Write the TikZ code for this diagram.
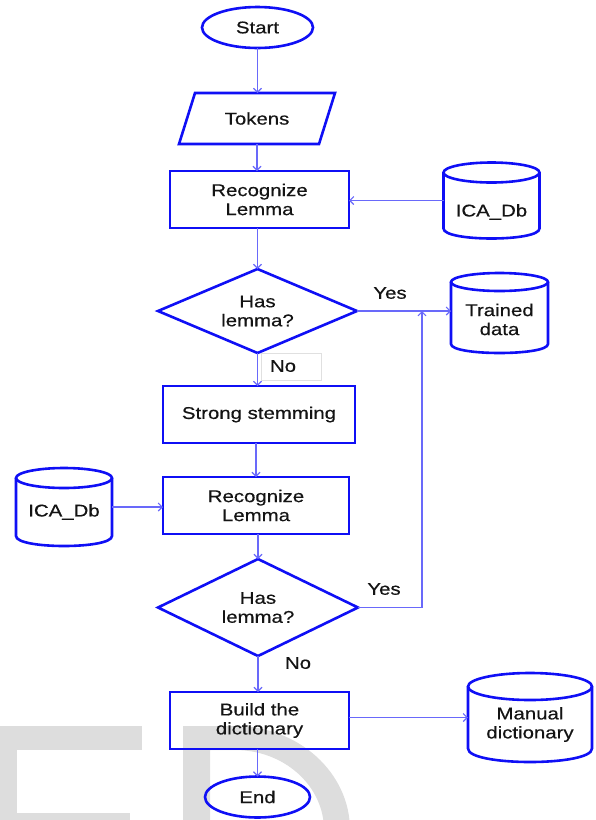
\documentclass[tikz,border=0pt]{standalone}
\usepackage{fontspec}
\setmainfont[FakeStretch=1.2,FakeBold=0.5]{Liberation Sans}
\usetikzlibrary{shapes.geometric,arrows.meta,calc}
\definecolor{bx}{RGB}{15,15,245}
\definecolor{cn}{RGB}{105,105,250}
\definecolor{wm}{RGB}{221,221,221}
\definecolor{tx}{RGB}{20,20,20}
\newcommand\lbl{\fontsize{17}{19}\selectfont}
\tikzset{
  base/.style={inner sep=0pt, outer sep=0pt, text=tx, font=\lbl, align=center},
  proc/.style={base, rectangle, draw=bx, line width=2.6pt},
  term/.style={base, ellipse, draw=bx, line width=2.6pt},
  dec/.style={base, diamond, draw=bx, line width=2.6pt, aspect=2.3},
  plainnode/.style={base, rectangle},
  bxline/.style={draw=bx, line width=2.6pt, line join=miter},
  conn/.style={draw=cn, line width=1.1pt, -{Straight Barb[length=4pt,width=8pt]}},
  lab/.style={base},
}
% name, cx, cy, w, h, ry, text, text y
\newcommand\dbcyl[8]{%
  \pgfmathsetmacro\cxl{#2-#4/2}\pgfmathsetmacro\cxr{#2+#4/2}%
  \pgfmathsetmacro\crx{#4/2}%
  \pgfmathsetmacro\cyt{#3-#5/2+#6}\pgfmathsetmacro\cyb{#3+#5/2-#6}%
  \pgfmathsetmacro\cyc{#3+#5/2-#6+4/3*#6}%
  \node[plainnode, minimum width=#4, minimum height=#5] (#1) at (#2,#3) {};
  \draw[bxline] (\cxl,\cyt) -- (\cxl,\cyb) .. controls (\cxl,\cyc) and (\cxr,\cyc) .. (\cxr,\cyb) -- (\cxr,\cyt);
  \draw[bxline] (#2,\cyt) ellipse [x radius=\crx, y radius=#6];
  \node[lab] (#1t) at (#2,#8) {#7};
}
\begin{document}
\begin{tikzpicture}[x=1pt,y=-1pt]
\useasboundingbox (0,0) rectangle (595,820);
% watermark
\begin{scope}
\clip (0,0) rectangle (595,820);
\fill[wm] (0,726) rectangle (142,750);
\fill[wm] (0,726) rectangle (17,820);
\fill[wm] (0,813) rectangle (130,820);
\fill[wm,even odd rule] (183,726) -- (235,726) .. controls (298.5,726) and (350,772.6) .. (350,830) -- (350,840) -- (183,840) -- cycle
  (210,750) -- (235,750) .. controls (284.2,750) and (324,785.8) .. (324,830) -- (324,840) -- (210,840) -- cycle;
\end{scope}

% nodes
\node[term, minimum width=111, minimum height=41] (start) at (257.5,27.5) {Start};
\node[plainnode, minimum width=140, minimum height=51] (tokens) at (257,118.5) {Tokens};
\draw[bxline] ($(tokens.north west)+(8,0)$) -- ($(tokens.north east)+(8,0)$) -- ($(tokens.south east)+(-8,0)$) -- ($(tokens.south west)+(-8,0)$) -- cycle;
\node[proc, minimum width=179, minimum height=57] (rec1) at (259.5,199.5) {Recognize\\Lemma};
\dbcyl{ica1}{491.5}{200.5}{96}{76}{10}{ICA\_Db}{212}
\node[dec, minimum width=199, minimum height=84] (d1) at (257.5,311) {Has\\lemma?};
\dbcyl{tr}{499.5}{313}{97}{80}{9}{Trained\\data}{319.5}
\node[proc, minimum width=192, minimum height=57] (ss) at (259,414.5) {Strong stemming};
\node[proc, minimum width=186, minimum height=57] (rec2) at (256,505.5) {Recognize\\Lemma};
\dbcyl{ica2}{64}{507}{96}{78}{10}{ICA\_Db}{512}
\node[dec, minimum width=200, minimum height=97] (d2) at (258,607.5) {Has\\lemma?};
\node[proc, minimum width=179, minimum height=57] (build) at (259.5,720.5) {Build the\\dictionary};
\dbcyl{man}{530}{717.5}{124}{89}{13.5}{Manual\\dictionary}{724.5}
\node[term, minimum width=105, minimum height=41] (end) at (257.5,797) {End};

% labels
\node[lab] (yes1) at (390,293) {Yes};
\node[lab] (yes2) at (384,589) {Yes};
\node[plainnode, draw=black!12, line width=0.6pt, minimum width=60, minimum height=27] (nobox) at (291,366.5) {};
\node[lab] (no1) at (283,366) {No};
\node[lab] (no2) at (298,663) {No};

\coordinate (j) at (422,311);

% connectors
\draw[conn] (start.south) -- (start.south |- tokens.north);
\draw[conn] (tokens.south) -- (tokens.south |- rec1.north);
\draw[conn] (d1.north |- rec1.south) -- (d1.north);
\draw[conn] (ica1.west) -- (ica1.west -| rec1.east);
\draw[conn] (d1.east) -- (d1.east -| tr.west);
\draw[conn] (d1.south) -- (d1.south |- ss.north);
\draw[conn] (rec2.north |- ss.south) -- (rec2.north);
\draw[conn] (ica2.east) -- (ica2.east -| rec2.west);
\draw[conn] (d2.north |- rec2.south) -- (d2.north);
\draw[conn] (d2.east) -| (j);
\draw[conn] (d2.south) -- (d2.south |- build.north);
\draw[conn] (man.west -| build.east) -- (man.west);
\draw[conn] (end.north |- build.south) -- (end.north);
\end{tikzpicture}
\end{document}
